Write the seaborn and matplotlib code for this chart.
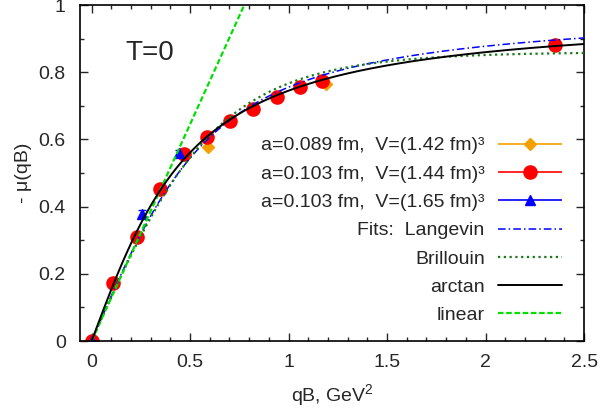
import numpy as np
import matplotlib
matplotlib.use("Agg")
import matplotlib.pyplot as plt
import seaborn as sns
from matplotlib.legend_handler import HandlerErrorbar
from matplotlib.ticker import MultipleLocator, FuncFormatter

# lattice data: qB in GeV^2, -mu(qB)
qb_089 = [0.0, 0.59, 1.19]
mu_089 = [0.0, 0.577, 0.766]
err_089 = [0.004, 0.006, 0.006]

qb_103 = [0.0, 0.111, 0.233, 0.349, 0.471, 0.587, 0.703, 0.820, 0.940, 1.058, 1.169, 2.35]
mu_103 = [0.0, 0.173, 0.310, 0.452, 0.557, 0.607, 0.655, 0.690, 0.726, 0.755, 0.775, 0.881]
err_103 = [0.004, 0.004, 0.004, 0.005, 0.005, 0.005, 0.005, 0.005, 0.005, 0.005, 0.005, 0.006]

qb_165 = [0.0, 0.258, 0.445]
mu_165 = [0.0, 0.378, 0.560]
err_165 = [0.005, 0.012, 0.010]

labels = ["a=0.089 fm,  V=(1.42 fm)³",
          "a=0.103 fm,  V=(1.44 fm)³",
          "a=0.103 fm,  V=(1.65 fm)³"]
colors = ["#f5a000", "#ff0000", "#0000ff"]
markers = ["D", "o", "^"]
msizes = [6, 9.5, 7]

# fit parameters
lang_A, lang_b = 1.0, 4.08
bril_A, bril_b = 0.86, 2.3
atan_c, atan_b = 0.626, 2.5
lin_k = 1.29


def langevin(x):
    z = lang_b * x
    out = np.zeros_like(z)
    nz = z > 1e-6
    out[nz] = 1.0 / np.tanh(z[nz]) - 1.0 / z[nz]
    return lang_A * out


def brillouin(x):
    # J = 1
    z = bril_b * x
    out = np.zeros_like(z)
    nz = z > 1e-6
    out[nz] = 1.5 / np.tanh(1.5 * z[nz]) - 0.5 / np.tanh(0.5 * z[nz])
    return bril_A * out


sns.set_style("ticks")
plt.rcParams['font.family'] = ['Liberation Sans', 'DejaVu Sans']
plt.rcParams['mathtext.fontset'] = 'custom'
plt.rcParams['mathtext.rm'] = 'Liberation Sans'
plt.rcParams['mathtext.it'] = 'Liberation Sans'
plt.rcParams['font.size'] = 14

fig = plt.figure(figsize=(6.04, 4.17), dpi=100)
ax = fig.add_axes([0.132, 0.182, 0.835, 0.806])

# data points
for qb, mu, err, col, mk, ms in zip([qb_089, qb_103, qb_165], [mu_089, mu_103, mu_165],
                                     [err_089, err_103, err_165], colors, markers, msizes):
    ax.errorbar(qb, mu, yerr=err, fmt=mk, color=col, ms=ms, mec=col,
                elinewidth=1.2, capsize=3, zorder=2)

# fit curves
xs = np.linspace(0, 2.5, 400)
xl = np.linspace(0, 1.0, 50)
lang_style = dict(color="#0000ff", lw=1.1, linestyle=(0, (5, 2, 1, 2)))
bril_style = dict(color="#1a7a1a", lw=1.6, linestyle=(0, (1, 1.6)))
atan_style = dict(color="black", lw=1.4)
lin_style = dict(color="#00e000", lw=1.6, linestyle=(0, (2.5, 1.2)))
sns.lineplot(x=xs, y=langevin(xs), ax=ax, zorder=3, **lang_style)
sns.lineplot(x=xs, y=brillouin(xs), ax=ax, zorder=3, **bril_style)
sns.lineplot(x=xs, y=atan_c * np.arctan(atan_b * xs), ax=ax, zorder=4, **atan_style)
sns.lineplot(x=xl, y=lin_k * xl, ax=ax, zorder=3, **lin_style)

# legend proxies (gnuplot-style)
handles = []
for col, mk, ms in zip(colors, markers, msizes):
    h = ax.errorbar([], [], xerr=[], fmt=mk, color=col, ms=ms, mec=col,
                    elinewidth=1.2, capsize=3)
    handles.append(h)
fit_handles = [plt.Line2D([], [], **s) for s in (lang_style, bril_style, atan_style, lin_style)]
leg_labels = labels + ["Fits:  Langevin", "Brillouin", "arctan", "linear"]
leg = ax.legend(handles + fit_handles, leg_labels, loc="lower right",
                bbox_to_anchor=(0.956, 0.05), frameon=False, markerfirst=False,
                handlelength=3.3, handletextpad=0.67, labelspacing=0.55,
                borderpad=0, borderaxespad=0, fontsize=14, numpoints=1,
                handler_map={type(handles[0]): HandlerErrorbar(xerr_size=1.65)})

ax.text(0.091, 0.857, "T=0", transform=ax.transAxes, fontsize=20, va="center", ha="left")

ax.set_xlim(-0.06, 2.5)
ax.set_ylim(0, 1)
ax.xaxis.set_major_locator(MultipleLocator(0.5))
ax.xaxis.set_minor_locator(MultipleLocator(0.1))
ax.yaxis.set_major_locator(MultipleLocator(0.2))
ax.yaxis.set_minor_locator(MultipleLocator(0.1))
ax.xaxis.set_major_formatter(FuncFormatter(lambda v, p: f"{v:g}"))
ax.yaxis.set_major_formatter(FuncFormatter(lambda v, p: f"{v:g}"))
ax.tick_params(which="both", direction="in", top=True, right=True, labelsize=14, width=1)
ax.tick_params(which="major", length=6)
ax.tick_params(axis="y", which="major", pad=10)
ax.tick_params(axis="x", which="major", pad=9)
ax.tick_params(which="minor", length=3)
for s in ax.spines.values():
    s.set_linewidth(1.2)
    s.set_color("black")

ax.set_xlabel(r"qB, GeV$^2$", fontsize=14, labelpad=8)
ax.set_ylabel("- μ(qB)", fontsize=14, labelpad=5)

fig.savefig("out.png", dpi=100)
